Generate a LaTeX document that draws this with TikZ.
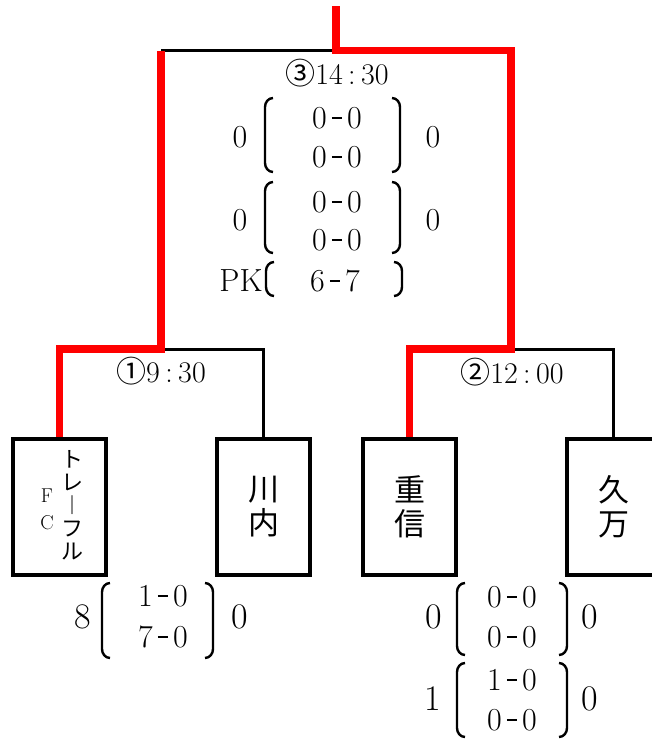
\documentclass[tikz,border=0pt]{standalone}
\usepackage{fontspec}
\newfontfamily\jpfont{Noto Sans CJK JP}
\usetikzlibrary{positioning}
\newcommand\dsh{\hspace{0.16em}\rule[0.29em]{0.32em}{0.06em}\hspace{0.16em}}
\newcommand\clk{\hspace{0.18em}:\hspace{0.18em}}

\begin{document}
\begin{tikzpicture}[
        x=1pt, y=-1pt,
    team/.style={
        draw=black,
        line width=3.5pt,
        minimum width=93pt,
        minimum height=136pt,
        inner sep=0pt},
    teamname/.style={
        align=center,
        font=\fontsize{31}{34}\selectfont\jpfont},
    line/.style={line width=3pt},
    win/.style={red, line width=7.5pt},
    brk/.style={line width=2.4pt},
    time/.style={font=\fontsize{30}{32}\selectfont, inner sep=0pt},
    score/.style={font=\fontsize{32}{34}\selectfont, inner sep=0pt},
    side/.style={font=\fontsize{36}{38}\selectfont, inner sep=0pt},
    node distance=107.5pt
    ]
    \useasboundingbox (0,0) rectangle (652,739);
    \clip (0,0) rectangle (652,739);

    % teams
    \node[team] (trefle) at (59.5,507) {};
    \node[team,right=of trefle] (sendai) {};
    \node[team,right=49.5pt of sendai] (shigenobu) {};
    \node[team,right=of shigenobu] (kuma) {};

    \node[font=\fontsize{22}{23}\selectfont\jpfont,align=center] (trefleA) at (72,505) {ト\\レ\\︱\\フ\\ル};
    \node[font=\fontsize{20}{27}\selectfont,align=center] (trefleB) at (47,509) {F\\C};
    \node[teamname] (sendaiN) at (sendai) {川\\内};
    \node[teamname] (shigenobuN) at (shigenobu) {重\\信};
    \node[teamname] (kumaN) at (kuma) {久\\万};

    % junctions
    \coordinate (top) at (336,6);
    \coordinate (jt) at (336,50.5);
    \coordinate (tl) at (161,50.5);
    \coordinate (tr) at (511,50.5);
    \coordinate (j1) at (161,349);
    \coordinate (j2) at (511,349);

    \draw[line] (jt) -- (tl);
    \draw[line] (j1) -| (sendai.north);
    \draw[line] (j2) -| (kuma.north);
    \draw[win] (top) -- (jt) -- (tr) -- (j2) -| (shigenobu.north);
    \draw[win] (tl) -- (j1) -| (trefle.north);

    % times
    \node[time] (t3) at (337,73) {{\jpfont ③}14\clk30};
    \node[time] (t1) at (161,371) {{\jpfont ①}9\clk30};
    \node[time] (t2) at (512,372) {{\jpfont ②}12\clk00};

    % scores
    \foreach \x/\y/\txt [count=\k] in {% x/y/text
        337/118/{0\dsh0},
        337/157/{0\dsh0},
        337/202/{0\dsh0},
        337/240/{0\dsh0},
        335/281/{6\dsh7},
        163/596/{1\dsh0},
        163/637/{7\dsh0},
        512/597/{0\dsh0},
        512/637/{0\dsh0},
        512/680/{1\dsh0},
        512/720/{0\dsh0}}
        \node[score] (row\k) at (\x,\y) {\txt};

    \foreach \x/\y/\txt/\s [count=\k] in {% x/y/text/style
        240/137/0/score,
        433/137/0/score,
        240/220/0/score,
        433/220/0/score,
        241/281/PK/score,
        83/617/8/side,
        240/617/0/side,
        434/617/0/side,
        590/617/0/side,
        433/699/1/side,
        590/699/0/side}
        \node[\s] (goal\k) at (\x,\y) {\txt};

    \foreach \xa/\xb/\ya/\yb in {% left x/right x/top y/bottom y
        265/400/98/172,
        265/400/182/253,
        266/402/262/296,
        102/213/583/658,
        457/567/583/655,
        457/567/663/737}{
        \draw[brk] ({\xa+8},\ya) to[out=180,in=90] (\xa,{\ya+9}) -- (\xa,{\yb-9}) to[out=-90,in=180] ({\xa+8},\yb);
        \draw[brk] ({\xb-8},\ya) to[out=0,in=90] (\xb,{\ya+9}) -- (\xb,{\yb-9}) to[out=-90,in=0] ({\xb-8},\yb);
    }
\end{tikzpicture}
\end{document}
